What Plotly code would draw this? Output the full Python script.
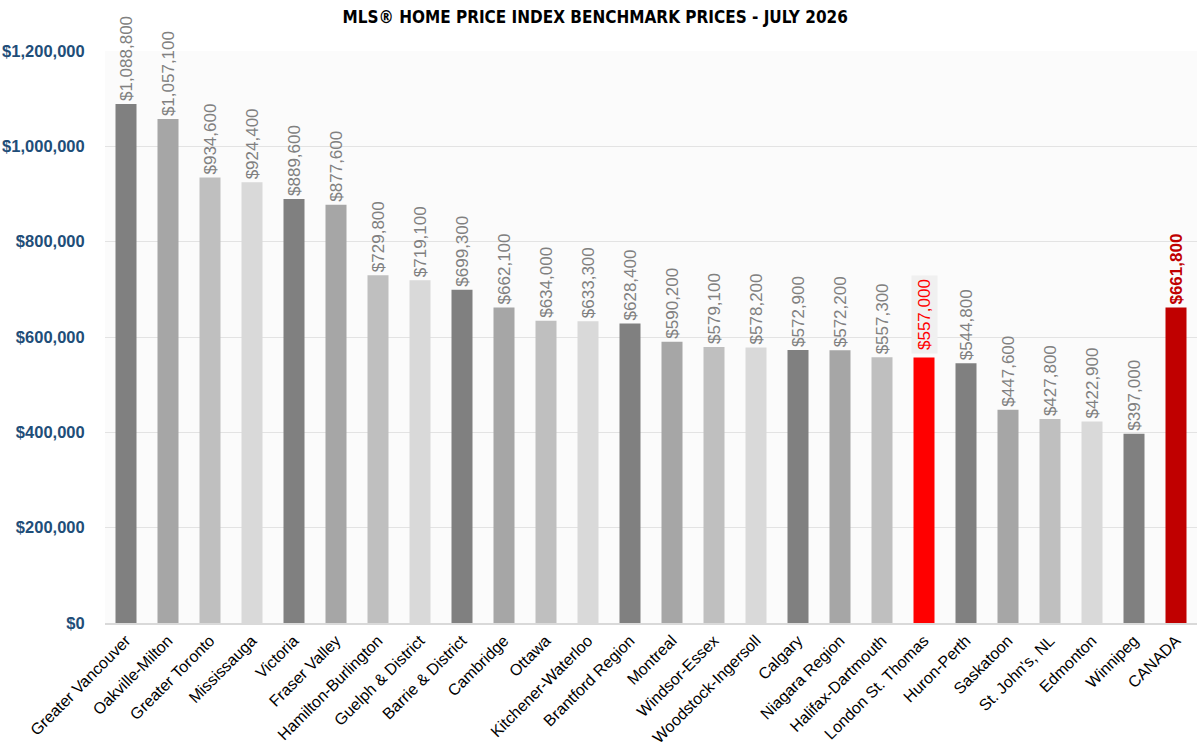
import plotly.graph_objects as go

# Benchmark prices by region, July 2026
regions = [
    "Greater Vancouver", "Oakville-Milton", "Greater Toronto", "Mississauga",
    "Victoria", "Fraser Valley", "Hamilton-Burlington", "Guelph & District",
    "Barrie & District", "Cambridge", "Ottawa", "Kitchener-Waterloo",
    "Brantford Region", "Montreal", "Windsor-Essex", "Woodstock-Ingersoll",
    "Calgary", "Niagara Region", "Halifax-Dartmouth", "London St. Thomas",
    "Huron-Perth", "Saskatoon", "St. John's, NL", "Edmonton", "Winnipeg",
    "CANADA",
]
prices = [
    1088800, 1057100, 934600, 924400, 889600, 877600, 729800, 719100,
    699300, 662100, 634000, 633300, 628400, 590200, 579100, 578200,
    572900, 572200, 557300, 557000, 544800, 447600, 427800, 422900,
    397000, 661800,
]
y_ticks = [0, 200000, 400000, 600000, 800000, 1000000, 1200000]

highlight = "London St. Thomas"
national = "CANADA"

greys = ["#808080", "#a6a6a6", "#bfbfbf", "#d9d9d9"]

# grey shades cycle in groups of four; the highlighted region restarts the cycle
colors = []
k = 0
for r in regions:
    if r == highlight:
        colors.append("#ff0000")
        k = 0
    elif r == national:
        colors.append("#c00000")
    else:
        colors.append(greys[k % 4])
        k += 1

labels = []
label_colors = []
for r, p in zip(regions, prices):
    txt = f"${p:,}"
    if r == highlight:
        labels.append("")          # drawn as an annotation with a box
        label_colors.append("#ff0000")
    elif r == national:
        labels.append(f"<b>{txt}</b>")
        label_colors.append("#c00000")
    else:
        labels.append(txt)
        label_colors.append("#808080")

base_font = "Liberation Sans, Arial, sans-serif"

fig = go.Figure()
fig.add_trace(go.Bar(
    x=regions,
    y=prices,
    marker_color=colors,
    marker_line_width=0,
    text=labels,
    textposition="outside",
    textangle=-90,
    textfont=dict(family=base_font, size=17, color=label_colors),
    constraintext="none",
    cliponaxis=False,
    hovertemplate="%{x}<br>%{y:$,}<extra></extra>",
))

# London label sits on a light grey box
i = regions.index(highlight)
fig.add_annotation(
    x=highlight, y=prices[i],
    text=f"${prices[i]:,}",
    textangle=-90,
    showarrow=False,
    yanchor="bottom",
    yshift=3,
    bgcolor="#f0f0f0",
    borderpad=3,
    font=dict(family=base_font, size=17, color="#ff0000"),
)

fig.update_layout(
    title=dict(
        text="<b>MLS® HOME PRICE INDEX BENCHMARK PRICES - JULY 2026</b>",
        x=0.496, xanchor="center", y=0.978, yanchor="middle",
        font=dict(family="DejaVu Sans Condensed, sans-serif", size=17, color="#000000"),
    ),
    width=1200,
    height=754,
    margin=dict(l=105, r=3, t=51, b=131),
    paper_bgcolor="#ffffff",
    plot_bgcolor="#fbfbfb",
    bargap=0.5,
    showlegend=False,
    xaxis=dict(
        tickangle=-45,
        tickfont=dict(family=base_font, size=16, color="#000000"),
        showline=True, linecolor="#d9d9d9", linewidth=2,
        ticks="",
        automargin=False,
    ),
    yaxis=dict(
        range=[0, 1200000],
        tickvals=y_ticks,
        tickformat="$,.0f",
        tickfont=dict(family=base_font, size=16.5, color="#1f4e79", weight="bold"),
        gridcolor="#e3e3e3", gridwidth=1,
        zeroline=False,
        ticks="outside", ticklen=16, tickcolor="rgba(0,0,0,0)",
        automargin=False,
    ),
)

# drop the browser's default body margin so the figure fills the window
fig.write_html(
    "out.html",
    config={"displayModeBar": False},
    post_script="document.body.style.margin='0';",
)
